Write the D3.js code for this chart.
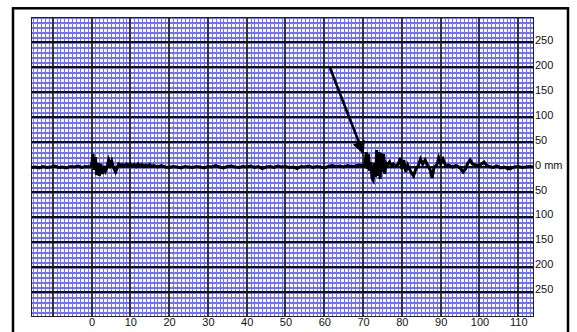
<!DOCTYPE html>
<html>
<head>
<meta charset="utf-8">
<script src="https://cdn.jsdelivr.net/npm/d3@7/dist/d3.min.js"></script>
<style>
  html, body { margin: 0; padding: 0; background: #fff; }
  svg { display: block; }
  .lbl text { font-family: "Liberation Sans Narrow", "Liberation Sans", Arial, sans-serif; font-size: 11px; fill: #111; }
</style>
</head>
<body>
<svg id="chart" width="577" height="332"></svg>
<script>
// ---- data ----
const xTicks = [0, 10, 20, 30, 40, 50, 60, 70, 80, 90, 100, 110];
const yTicks = [250, 200, 150, 100, 50, 0, -50, -100, -150, -200, -250];
const yTickLabels = ["250", "200", "150", "100", "50", "0 mm", "50", "100", "150", "200", "250"];

// trace: time (x units) and displacement (mm)
const traceT = [
  -15.6, -14.5, -13.5, -12.5, -11.5, -10.5, -9.5, -8.5, -7.5, -6.5, -5.5, -4.5, -3.5, -2.5, -1.5, -0.5,
  0, 0.4, 0.7, 1.0, 1.3, 1.7, 2.0, 2.4, 2.8, 3.2, 3.6, 4.0, 4.4, 4.8, 5.2, 5.6, 6.2, 6.6, 7.0,
  7.5, 8, 8.5, 9, 9.5, 10, 10.5, 11, 11.5, 12, 12.5, 13, 13.5, 14, 14.5, 15, 15.5, 16, 17, 18,
  19, 20, 21, 22, 23, 24, 25, 26, 27, 28, 29, 30, 31, 32, 33, 34, 35, 36, 37, 38, 39, 40,
  41, 42, 43, 44, 45, 46, 47, 48, 49, 50, 51, 52, 53, 54, 55, 56, 57, 58, 59, 60, 61, 62,
  63, 64, 65, 66, 67, 68, 69, 70, 70.5, 70.8, 71.1, 71.4, 71.7, 72.0, 72.3, 72.6, 72.9, 73.2,
  73.5, 73.8, 74.1, 74.4, 74.7, 75.0, 75.3, 75.6, 75.9, 76.3, 76.8, 77.3, 77.8, 78.3, 79,
  79.6, 80, 80.5, 81, 81.5, 82.2, 83, 83.6, 84.2, 84.8, 85.4, 86, 86.6, 87.3, 87.8, 88.3, 89,
  89.5, 90, 90.6, 91.3, 92, 93, 94, 95, 95.8, 96.4, 97, 97.6, 98.2, 99, 99.8, 100.5, 101.2,
  101.8, 102.5, 103.5, 104.5, 105.5, 106.5, 107.3, 108, 109, 110, 111, 112, 113, 113.8
];
const traceMM = [
  -1, 0, -2, 1, -1, 0, 2, -1, 0, -2, 1, 0, 2, -1, 1, 0,
  4, 26, -6, 20, -16, 8, -18, 6, -14, 2, -8, 0, 14, 4, 12, 0, -10, -2, 6,
  3, 5, 2, 6, 3, 6, 2, 5, 1, 6, 2, 5, 1, 4, 2, 5, 1, 3, 0, 3,
  0, -1, 1, 0, -2, 1, 0, -1, 1, 0, -2, 1, 0, 3, 0, -2, 1, 2, 0, -1, 1, 0,
  2, -1, 1, -3, 0, 1, -1, 2, 0, 1, -1, 0, -3, 1, 0, 2, -1, 1, 0, -2, 1, 3,
  1, 2, 0, 3, 1, 2, 4, 2, 6, 30, -4, 26, -8, 10, -22, -26, 8, -20,
  34, -18, 30, -24, 28, -10, 26, -14, 8, 4, 10, 2, 6, 1, 5,
  18, -4, 14, -10, 4, -8, -18, -4, 2, 16, 6, 14, 4, -6, -22, 0, 4,
  18, 6, 16, 2, 4, 0, 3, -2, -10, -4, 8, 14, 6, 4, 2, 6, 10,
  4, 1, -1, 2, -2, 0, -4, -3, 0, 1, -1, 0, 1, 0
];

// annotation arrow (from, to) in data units
const arrowFrom = [61.4, 200];
const arrowTo = [70.0, 28];

// ---- drawing ----
const svg = d3.select("#chart");
const x = d3.scaleLinear().domain([-15.6, 113.8]).range([31, 533]);
const y = d3.scaleLinear().domain([-299, 301]).range([316, 17]);

// outer frame
svg.append("rect").attr("x", 13).attr("y", 8.3).attr("width", 555).attr("height", 400)
  .attr("fill", "#fff").attr("stroke", "#000").attr("stroke-width", 2.5);

const plot = svg.append("g");
plot.append("rect").attr("x", 31).attr("y", 17).attr("width", 502).attr("height", 299).attr("fill", "#fff");

const minorX = d3.range(-15, 114, 1);
const minorY = d3.range(-290, 301, 10);
const majorX = d3.range(-10, 111, 10);
const majorY = d3.range(-250, 251, 50);

const grid = plot.append("g").attr("shape-rendering", "crispEdges");
grid.selectAll("line.mx").data(minorX).join("line")
  .attr("x1", d => Math.round(x(d)) + 0.5).attr("x2", d => Math.round(x(d)) + 0.5)
  .attr("y1", 17).attr("y2", 316).attr("stroke", "#6f6fff").attr("stroke-width", 1.4);
grid.selectAll("line.my").data(minorY).join("line")
  .attr("y1", d => Math.round(y(d)) + 0.5).attr("y2", d => Math.round(y(d)) + 0.5)
  .attr("x1", 31).attr("x2", 533).attr("stroke", "#7070ff").attr("stroke-width", 2);
grid.selectAll("line.MX").data(majorX).join("line")
  .attr("x1", d => Math.round(x(d))).attr("x2", d => Math.round(x(d)))
  .attr("y1", 17).attr("y2", 316).attr("stroke", "#333").attr("stroke-width", 2);
grid.selectAll("line.MY").data(majorY).join("line")
  .attr("y1", d => Math.round(y(d))).attr("y2", d => Math.round(y(d)))
  .attr("x1", 31).attr("x2", 533).attr("stroke", "#111").attr("stroke-width", 2);
grid.append("rect").attr("x", 31).attr("y", 17).attr("width", 502).attr("height", 299)
  .attr("fill", "none").attr("stroke", "#222").attr("stroke-width", 1);

// trace
const pts = traceT.map((t, i) => [t, traceMM[i]]);
plot.append("path").datum(pts)
  .attr("fill", "none").attr("stroke", "#000").attr("stroke-width", 3)
  .attr("stroke-linejoin", "miter")
  .attr("d", d3.line().x(d => x(d[0])).y(d => y(d[1])));

// arrow
const defs = svg.append("defs");
defs.append("marker").attr("id", "ah").attr("viewBox", "0 0 10 10")
  .attr("refX", 9).attr("refY", 5).attr("markerWidth", 5.5).attr("markerHeight", 5)
  .attr("orient", "auto").attr("markerUnits", "strokeWidth")
  .append("path").attr("d", "M0,0 L10,5 L0,10 Z").attr("fill", "#000");
plot.append("line")
  .attr("x1", x(arrowFrom[0])).attr("y1", y(arrowFrom[1]))
  .attr("x2", x(arrowTo[0])).attr("y2", y(arrowTo[1]))
  .attr("stroke", "#000").attr("stroke-width", 2.6)
  .attr("marker-end", "url(#ah)");

// axes (labels only)
const xAxis = d3.axisBottom(x).tickValues(xTicks).tickSize(0).tickPadding(0).tickFormat(d3.format("d"));
const gx = svg.append("g").attr("class", "lbl").attr("transform", "translate(0,317)").call(xAxis);
gx.select(".domain").remove();
gx.selectAll("text").attr("dy", null).attr("y", 9);

const yAxis = d3.axisRight(y).tickValues(yTicks).tickSize(0).tickPadding(0)
  .tickFormat((d, i) => yTickLabels[i]);
const gy = svg.append("g").attr("class", "lbl").attr("transform", "translate(535,0)").call(yAxis);
gy.select(".domain").remove();
gy.selectAll("text").attr("dy", "0.1em").attr("x", 0);
</script>
</body>
</html>
